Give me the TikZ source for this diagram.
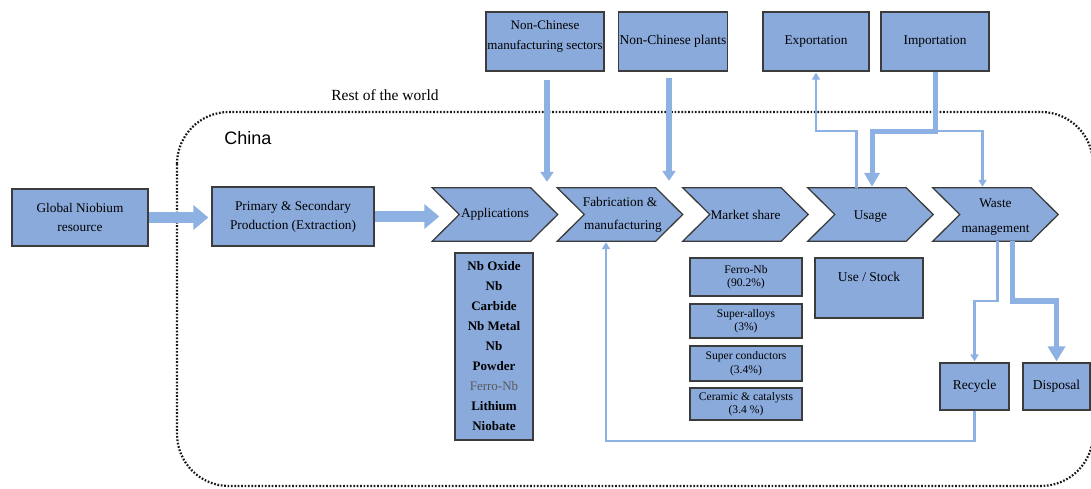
\documentclass[tikz,border=0pt]{standalone}
\usepackage{fontspec}
\setmainfont{Liberation Serif}
\newfontfamily\chinafont{Liberation Sans}
\usetikzlibrary{arrows.meta,calc}
\definecolor{boxfill}{HTML}{8AAADC}
\definecolor{boxline}{HTML}{3C3C3C}
\definecolor{arrowc}{HTML}{8DB1E2}
\tikzset{
  box/.style={draw=boxline, line width=1.3pt, fill=boxfill, inner sep=1pt, align=center, font=\fontsize{13.3}{19}\selectfont},
  small/.style={box, minimum width=112pt, font=\fontsize{11.6}{13.5}\selectfont},
  chevbase/.style={minimum width=125pt, minimum height=53pt, inner sep=0pt, align=center, font=\fontsize{13.3}{25}\selectfont},
  chevshape/.style={draw=boxline, line width=1.3pt, fill=boxfill, line join=miter},
  bigarrow/.style={draw=arrowc, line width=11pt, -{Triangle[length=15pt,width=24pt]}},
  midarrow/.style={draw=arrowc, line width=6pt, -{Triangle[length=10pt,width=13pt]}},
  thickarrow/.style={draw=arrowc, line width=5pt, -{Triangle[length=14pt,width=15pt]}},
  thinarrow/.style={draw=arrowc, line width=2.2pt, -{Triangle[length=7pt,width=8pt]}},
  border/.style={draw=black!90, line width=2.2pt, dash pattern=on 1.7pt off 1.7pt, rounded corners=52pt}
}
\newcommand\chevdraw[1]{%
  \fill[white] (#1.north west) -- ([xshift=-27pt]#1.north east) -- (#1.east) -- ([xshift=-27pt]#1.south east) -- (#1.south west) -- ([xshift=27pt]#1.west) -- cycle;
  \path[chevshape] (#1.north west) -- ([xshift=-27pt]#1.north east) -- (#1.east) -- ([xshift=-27pt]#1.south east) -- (#1.south west) -- ([xshift=27pt]#1.west) -- cycle;}
\begin{document}
\begin{tikzpicture}[x=1pt,y=-1pt]
\useasboundingbox (0,0) rectangle (1091,488);

% dotted China region
\path[border] (177,112) rectangle (1093,486);
\node[font=\fontsize{15.5}{18}\selectfont] (rest) at (385,95) {Rest of the world};
\node[font=\chinafont\fontsize{18}{20}\selectfont] (china) at (248,138) {China};

% coordinates for bends
\coordinate (yimp) at (0,131);
\coordinate (ywm) at (0,301);
\coordinate (ybot) at (0,441);

% left boxes
\node[box, minimum width=136pt, minimum height=57pt] (glob) at (80,217.5) {Global Niobium\\resource};
\node[box, minimum width=162pt, minimum height=59pt] (prim) at (293,216.5) {Primary \& Secondary\\Production (Extraction)};

% chevrons
\node[chevbase] (app) at (495,214.5) {};
\node[chevbase] (fab) at (620,214.5) {};
\node[chevbase] (mkt) at (745.5,214.5) {};
\node[chevbase] (use) at (870.5,214.5) {};
\node[chevbase] (waste) at (995.5,214.5) {};
\chevdraw{app}\chevdraw{fab}\chevdraw{mkt}\chevdraw{use}\chevdraw{waste}
\node[chevbase] at (app) {Applications};
\node[chevbase, font=\fontsize{13.3}{24}\selectfont] at (fab) {Fabrication \&\\[-1pt]\hspace*{6pt}manufacturing};
\node[chevbase] at (mkt) {Market share};
\node[chevbase] at ([yshift=-2pt]use.center) {Usage};
\node[chevbase] at ([yshift=-3pt]waste.center) {Waste\\management};

% applications list
\node[box, minimum width=78pt, minimum height=187pt, font=\fontsize{13}{20}\selectfont\bfseries] (list) at (494,346.5)
  {Nb Oxide\\Nb\\Carbide\\Nb Metal\\Nb\\Powder\\{\mdseries\color{black!65}Ferro-Nb}\\Lithium\\Niobate};

% market share boxes
\node[small, minimum height=38pt] (ferro) at (746,277) {Ferro-Nb\\(90.2\%)};
\node[small, minimum height=34pt] (salloy) at (746,321) {Super-alloys\\(3\%)};
\node[small, minimum height=35pt] (scond) at (746,363.5) {Super conductors\\(3.4\%)};
\node[small, minimum height=32pt] (ceram) at (746,404) {Ceramic \& catalysts\\(3.4 \%)};

% use / stock
\node[box, minimum width=108pt, minimum height=60pt, font=\fontsize{13.5}{17}\selectfont] (stock) at (869,288) {Use / Stock\\\strut};

% recycle / disposal
\node[box, minimum width=69pt, minimum height=47pt, font=\fontsize{13.5}{16}\selectfont] (recycle) at (974.5,386.5) {Recycle};
\node[box, minimum width=67pt, minimum height=47pt, font=\fontsize{13.5}{16}\selectfont] (disposal) at (1056.5,386.5) {Disposal};

% top boxes
\node[box, minimum width=118pt, minimum height=59pt, font=\fontsize{13}{20}\selectfont] (ncm) at (545,41.5) {Non-Chinese\\manufacturing sectors\\[-6pt]};
\node[box, minimum width=108pt, minimum height=59pt, font=\fontsize{13.5}{16}\selectfont] (ncp) at (673,41.5) {Non-Chinese plants};
\node[box, minimum width=106pt, minimum height=59pt] (export) at (816,41.5) {Exportation};
\node[box, minimum width=108pt, minimum height=59pt] (import) at (935,41.5) {Importation};

% connectors
\draw[bigarrow, shorten >=3pt] (glob.east) -- (glob.east -| prim.west);
\draw[bigarrow, shorten >=-7pt] (prim.east) -- (prim.east -| app.west);
\draw[midarrow, shorten <=8pt, shorten >=6pt] ([xshift=2pt]ncm.south) -- ([xshift=2pt]ncm.south |- fab.north);
\draw[midarrow, shorten <=6pt, shorten >=7pt] ([xshift=-4pt]ncp.south) -- ([xshift=-4pt]ncp.south |- fab.north);
\draw[thinarrow, shorten >=1pt] ([xshift=-14pt]use.north) |- (export.south |- yimp) -- (export.south);
\draw[thinarrow, shorten >=1pt] (import.south) |- ([xshift=-13pt]waste.north |- yimp) -- ([xshift=-13pt]waste.north);
\draw[thickarrow, shorten >=1pt, line join=miter] (import.south) |- ([xshift=1.5pt]use.north |- yimp) -- ([xshift=1.5pt]use.north);
\draw[thinarrow, shorten >=1pt] ([xshift=2pt]waste.south) |- (recycle.north |- ywm) -- (recycle.north);
\draw[thickarrow, line width=5.5pt, -{Triangle[length=15pt,width=17pt]}, shorten >=1pt] ([xshift=17pt]waste.south) |- (disposal.north |- ywm) -- (disposal.north);
\draw[thinarrow, shorten >=1pt] (recycle.south) |- ([xshift=-14pt]fab.south |- ybot) -- ([xshift=-14pt]fab.south);
\end{tikzpicture}
\end{document}
